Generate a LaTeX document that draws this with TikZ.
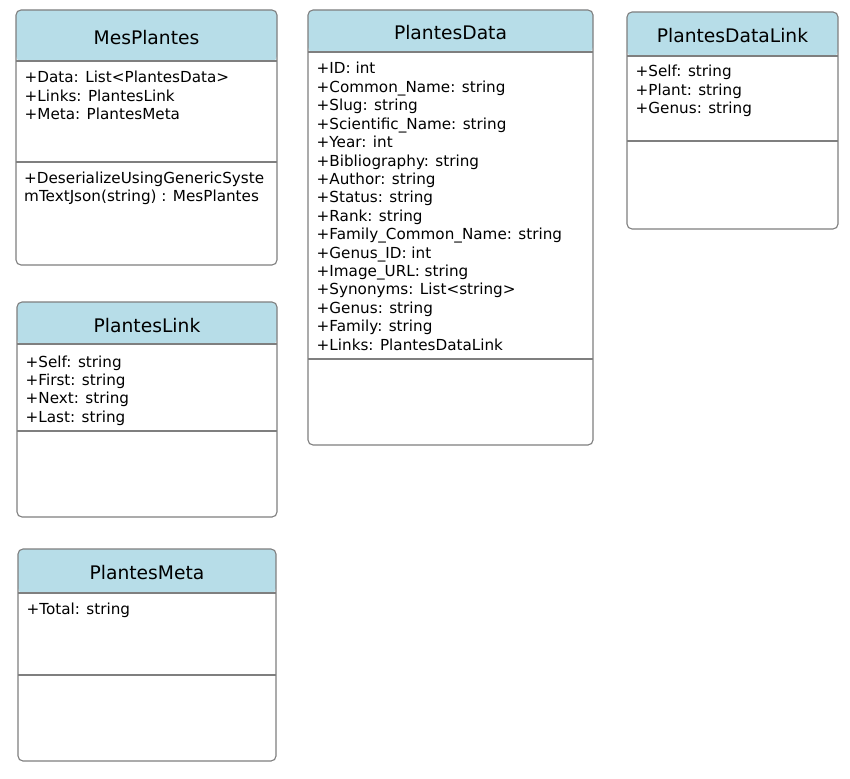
\documentclass[tikz,border=0pt]{standalone}
\usepackage{fontspec}
\setmainfont{DejaVu Sans}
\definecolor{hdr}{HTML}{B7DDE8}
\definecolor{linegray}{HTML}{7F7F7F}
\tikzset{
  cls/.style={draw=linegray, line width=1.1pt, rounded corners=5pt, anchor=north west,
    inner sep=0pt, outer sep=0pt, fill=white,
    path picture={\fill[hdr] (path picture bounding box.north west) rectangle ([yshift=-#1]path picture bounding box.north east);}},
  sep/.style={draw=linegray, line width=1.1pt},
  ttl/.style={font=\fontsize{18.7pt}{22pt}\selectfont, anchor=base, inner sep=0pt},
  attr/.style={font=\fontsize{15.2pt}{18.4pt}\selectfont, anchor=base west, inner sep=0pt},
}
\begin{document}
\begin{tikzpicture}[x=1pt,y=1pt]
\useasboundingbox (0,0) rectangle (850,-778);
\fill[white] (0,0) rectangle (850,-778);

% MesPlantes
\node[cls=51pt, minimum width=261pt, minimum height=255pt] (mp) at (16,-10) {};
\draw[sep] ([yshift=-51pt]mp.north west) -- ([yshift=-51pt]mp.north east);
\draw[sep] ([yshift=-152pt]mp.north west) -- ([yshift=-152pt]mp.north east);
\node[ttl] (mpT) at ([yshift=-34.5pt]mp.north) {MesPlantes};
\foreach \t [count=\i from 0] in {+Data: List<PlantesData>, +Links: PlantesLink, +Meta: PlantesMeta}
  \node[attr] (mpA\i) at ([xshift=8.5pt, yshift=-73pt-18.4pt*\i]mp.north west) {\t};
\foreach \t [count=\i from 0] in {+DeserializeUsingGenericSyste, mTextJson(string) : MesPlantes}
  \node[attr] (mpM\i) at ([xshift=8pt, yshift=-173pt-18.4pt*\i]mp.north west) {\t};

% PlantesData
\node[cls=42pt, minimum width=285pt, minimum height=435pt] (pd) at (308,-10) {};
\draw[sep] ([yshift=-42pt]pd.north west) -- ([yshift=-42pt]pd.north east);
\draw[sep] ([yshift=-349pt]pd.north west) -- ([yshift=-349pt]pd.north east);
\node[ttl] (pdT) at ([yshift=-30pt]pd.north) {PlantesData};
\foreach \t [count=\i from 0] in {+ID: int, +Common\_Name: string, +Slug: string, +Scientific\_Name: string, +Year: int, +Bibliography: string, +Author: string, +Status: string, +Rank: string, +Family\_Common\_Name: string, +Genus\_ID: int, +Image\_URL: string, +Synonyms: List<string>, +Genus: string, +Family: string, +Links: PlantesDataLink}
  \node[attr] (pdA\i) at ([xshift=8.5pt, yshift=-64pt-18.4pt*\i]pd.north west) {\t};

% PlantesDataLink
\node[cls=44pt, minimum width=211pt, minimum height=217pt] (pdl) at (627,-12) {};
\draw[sep] ([yshift=-44pt]pdl.north west) -- ([yshift=-44pt]pdl.north east);
\draw[sep] ([yshift=-129pt]pdl.north west) -- ([yshift=-129pt]pdl.north east);
\node[ttl] (pdlT) at ([yshift=-31pt]pdl.north) {PlantesDataLink};
\foreach \t [count=\i from 0] in {+Self: string, +Plant: string, +Genus: string}
  \node[attr] (pdlA\i) at ([xshift=8.5pt, yshift=-65pt-18.4pt*\i]pdl.north west) {\t};

% PlantesLink
\node[cls=42pt, minimum width=260pt, minimum height=215pt] (pl) at (17,-302) {};
\draw[sep] ([yshift=-42pt]pl.north west) -- ([yshift=-42pt]pl.north east);
\draw[sep] ([yshift=-129pt]pl.north west) -- ([yshift=-129pt]pl.north east);
\node[ttl] (plT) at ([yshift=-30pt]pl.north) {PlantesLink};
\foreach \t [count=\i from 0] in {+Self: string, +First: string, +Next: string, +Last: string}
  \node[attr] (plA\i) at ([xshift=8.5pt, yshift=-65pt-18.4pt*\i]pl.north west) {\t};

% PlantesMeta
\node[cls=44pt, minimum width=258pt, minimum height=212pt] (pm) at (18,-549) {};
\draw[sep] ([yshift=-44pt]pm.north west) -- ([yshift=-44pt]pm.north east);
\draw[sep] ([yshift=-126pt]pm.north west) -- ([yshift=-126pt]pm.north east);
\node[ttl] (pmT) at ([yshift=-30pt]pm.north) {PlantesMeta};
\foreach \t [count=\i from 0] in {+Total: string}
  \node[attr] (pmA\i) at ([xshift=8.5pt, yshift=-65pt-18.4pt*\i]pm.north west) {\t};
\end{tikzpicture}
\end{document}
